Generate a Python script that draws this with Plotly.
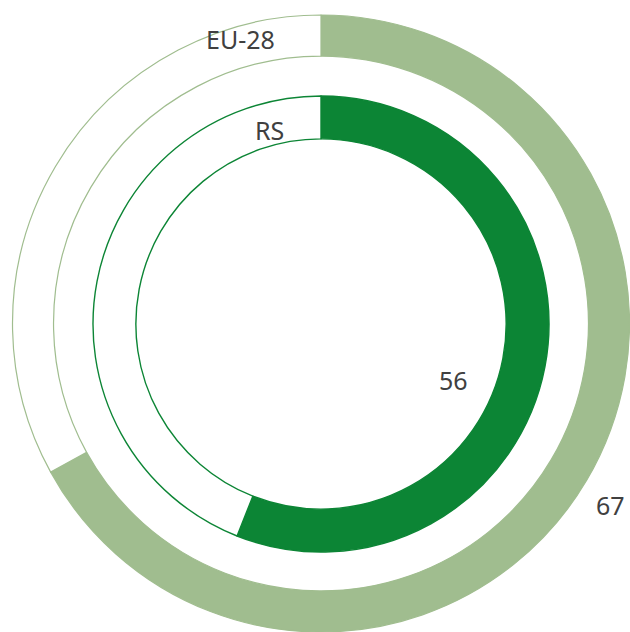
import plotly.graph_objects as go

# Data
categories = ["EU-28", "RS"]
values = [67, 56]
totals = [100, 100]
colors = ["#a0bd8f", "#0c8535"]

W, H = 630, 632
cx, cy = 321, 324  # pixel centre (from top)


def dom(r):
    x0 = (cx - r) / W
    x1 = (cx + r) / W
    y0 = (H - cy - r) / H
    y1 = (H - cy + r) / H
    return dict(x=[max(0, x0), min(1, x1)], y=[max(0, y0), min(1, y1)])


fig = go.Figure()
rings = [(309, 0.867, 1.2), (228, 0.812, 1.4)]
for i, (r, hole, lw) in enumerate(rings):
    v = values[i]
    fig.add_trace(go.Pie(
        values=[v, totals[i] - v],
        labels=[categories[i] + " value", categories[i] + " rest"],
        hole=hole,
        sort=False,
        direction="clockwise",
        rotation=0,
        marker=dict(colors=[colors[i], "#ffffff"],
                    line=dict(color=colors[i], width=lw)),
        textinfo="none",
        hoverinfo="label+value",
        showlegend=False,
        domain=dom(r),
    ))


def px(x, y):
    return x / W, 1 - y / H


ann = [
    (categories[0], 241, 39),
    (categories[1], 269, 130),
    (str(values[1]), 453, 380),
    (str(values[0]), 610, 505),
]
annotations = []
for t, x, y in ann:
    ax, ay = px(x, y)
    annotations.append(dict(text=t, x=ax, y=ay, xref="paper", yref="paper",
                            showarrow=False, xanchor="center", yanchor="middle",
                            font=dict(family="Noto Sans, Open Sans, sans-serif",
                                      size=25, color="#404040")))

fig.update_layout(
    width=W, height=H,
    margin=dict(l=0, r=0, t=0, b=0),
    paper_bgcolor="white", plot_bgcolor="white",
    annotations=annotations,
)
fig.write_html(
    "out.html",
    config={"displayModeBar": False},
    post_script="document.body.style.margin='0';document.body.style.overflow='hidden';",
)
